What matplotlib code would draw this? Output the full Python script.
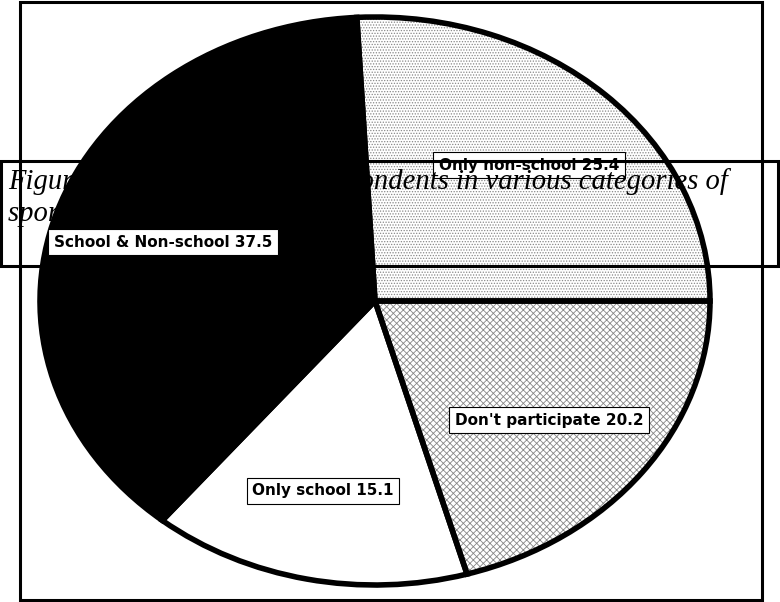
import matplotlib
matplotlib.use('Agg')
import matplotlib.pyplot as plt
from matplotlib.patches import Rectangle

# sport participation categories, drawn counter-clockwise from 3 o'clock
categories = ['Only non-school', 'School & Non-school', 'Only school', "Don't participate"]
percent = [25.4, 37.5, 15.1, 20.2]
fills = ['white', 'black', 'white', 'white']
hatches = ['......', None, None, 'xxxxx']

caption = ('Figure 4.2: Percentage of respondents in various categories of\n'
           'sport participation')

W, H = 780, 602
plt.rcParams['hatch.linewidth'] = 0.6

fig = plt.figure(figsize=(W / 100, H / 100), dpi=100)

# pie axes stretched so the pie becomes an ellipse
ax = fig.add_axes([40 / W, 17 / H, 670 / W, 568 / H])

# first pass: fills + hatch patterns (grey hatch, no outline)
wedges, _ = ax.pie(percent, startangle=0, counterclock=True, colors=fills,
                   wedgeprops=dict(edgecolor='#888888', linewidth=0))
for w, h in zip(wedges, hatches):
    if h:
        w.set_hatch(h)

# second pass: thick black outline
ax.pie(percent, startangle=0, counterclock=True,
       wedgeprops=dict(facecolor='none', edgecolor='black', linewidth=4,
                       joinstyle='miter'))
ax.set_aspect('auto')
ax.set_xlim(-1.0, 1.0)
ax.set_ylim(-1.0, 1.0)
ax.axis('off')

# labels in white boxes
label_pos = [(529, 165), (163, 242), (323, 491), (549, 420)]
for name, val, (px, py) in zip(categories, percent, label_pos):
    fig.text(px / W, 1 - py / H, f'{name} {val}', ha='center', va='center',
             fontsize=11, fontweight='bold', family='DejaVu Sans',
             zorder=0.5,
             bbox=dict(boxstyle='square,pad=0.35', facecolor='white',
                       edgecolor='black', linewidth=0.8))

# outer frame
fig.patches.append(Rectangle((20 / W, 1 - 600 / H), 742 / W, 598 / H,
                             transform=fig.transFigure, fill=False,
                             edgecolor='black', linewidth=2.2, zorder=2))
# caption box
fig.patches.append(Rectangle((1 / W, 1 - 266 / H), 777 / W, 105 / H,
                             transform=fig.transFigure, fill=False,
                             edgecolor='black', linewidth=2.2, zorder=2))
fig.text(8 / W, 1 - 168 / H, caption, ha='left', va='top', fontsize=20.6,
         style='italic', family='Liberation Serif', linespacing=1.3, zorder=3)

fig.savefig('out.png', dpi=100)
